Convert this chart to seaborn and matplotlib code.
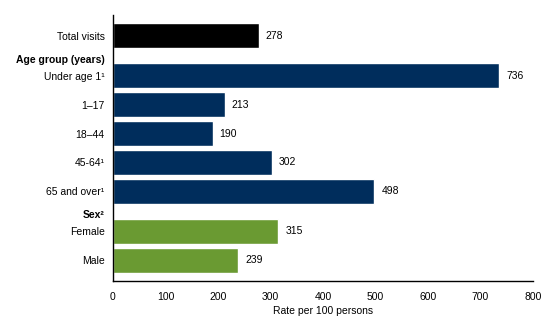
import matplotlib
matplotlib.use("Agg")
import matplotlib.pyplot as plt
import seaborn as sns
import pandas as pd

# Emergency department visit rates per 100 persons
categories = ["Total visits", "Under age 1\u00b9", "1\u201317", "18\u201344",
              "45-64\u00b9", "65 and over\u00b9", "Female", "Male"]
values = [278, 736, 213, 190, 302, 498, 315, 239]
groups = ["Total", "Age", "Age", "Age", "Age", "Age", "Sex", "Sex"]
group_headers = {"Age": "Age group (years)", "Sex": "Sex\u00b2"}
palette = {"Total": "#000000", "Age": "#002D5C", "Sex": "#6A9A32"}

# Row positions: one unit per bar, with a smaller extra gap before each header
positions = []
header_pos = {}
pos = 0.0
prev = None
for g in groups:
    if prev is not None and g != prev:
        pos += 0.37
        header_pos[g] = pos - 0.58
    positions.append(pos)
    pos += 1.0
    prev = g

df = pd.DataFrame({"cat": categories, "value": values,
                   "group": groups, "pos": positions})

sns.set_style("white")
plt.rcParams["font.family"] = ["Liberation Sans", "DejaVu Sans"]
plt.rcParams["text.color"] = "black"
plt.rcParams["axes.labelcolor"] = "black"
plt.rcParams["xtick.color"] = "black"
plt.rcParams["ytick.color"] = "black"

fig = plt.figure(figsize=(5.6, 3.31), dpi=100)
ax = fig.add_axes([113 / 560, 50 / 331, 420 / 560, 266 / 331])

sns.barplot(data=df, x="value", y="pos", hue="group", palette=palette,
            orient="h", native_scale=True, dodge=False, width=0.87,
            legend=False, ax=ax, saturation=1)

for v, p in zip(values, positions):
    ax.text(v + 13, p, str(v), va="center", ha="left", fontsize=7.5,
            color="black")

ticks = list(positions) + [header_pos[g] for g in header_pos]
labels = list(categories) + [group_headers[g] for g in header_pos]
ax.set_yticks(ticks)
ax.set_yticklabels(labels, fontsize=7.5, color="black")
for lbl in ax.get_yticklabels()[len(positions):]:
    lbl.set_fontweight("bold")

ax.set_ylim(positions[-1] + 0.72, -0.72)
ax.set_xlim(0, 800)
ax.set_xticks(range(0, 801, 100))
ax.tick_params(axis="x", direction="in", length=5, width=0.8,
               labelsize=7.5, pad=8, colors="black")
ax.tick_params(axis="y", length=0, pad=6, colors="black")
ax.set_xlabel("Rate per 100 persons", fontsize=7.5, labelpad=3,
              color="black")
ax.set_ylabel("")

for side in ["top", "right"]:
    ax.spines[side].set_visible(False)
for side in ["left", "bottom"]:
    ax.spines[side].set_color("black")
    ax.spines[side].set_linewidth(1.0)

fig.savefig("out.png", dpi=100)
